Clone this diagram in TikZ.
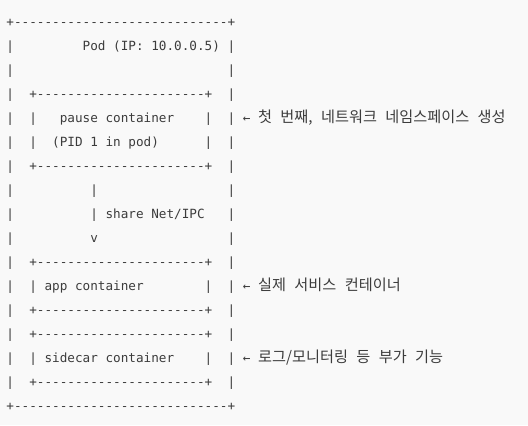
\documentclass[tikz,border=0pt]{standalone}
\usepackage{fontspec}
\usepackage{xcolor}
\setmonofont{DejaVu Sans Mono}
\newfontfamily\krfont{Noto Sans CJK KR}
\newcommand\kr{\krfont\fontsize{11.4}{13}\selectfont}
\newcommand\ks{\hspace{6.3pt}}
\definecolor{ink}{HTML}{3C3C3C}
\definecolor{paper}{HTML}{F9F9F9}
\tikzset{row/.style={anchor=base west,inner sep=0pt,text=ink,font=\ttfamily\fontsize{9.5}{11}\selectfont}}

\begin{document}
\begin{tikzpicture}[x=0.75pt,y=0.75pt,yscale=-1,xscale=1]

\fill [paper] (0,0) rectangle (528,425);

% pod box, one line of text per row
\draw (6.2,26) node (r1) [row] {+----------------------------+};
\draw (6.2,50) node (r2) [row] {|~~~~~~~~~Pod~(IP:~10.0.0.5)~|};
\draw (6.2,74) node (r3) [row] {|~~~~~~~~~~~~~~~~~~~~~~~~~~~~|};
\draw (6.2,98) node (r4) [row] {|~~+----------------------+~~|};
\draw (6.2,122) node (r5) [row] {|~~|~~~pause~container~~~~|~~|~←~{\kr 첫\ks 번째,\ks 네트워크\ks 네임스페이스\ks 생성}};
\draw (6.2,146) node (r6) [row] {|~~|~~(PID~1~in~pod)~~~~~~|~~|};
\draw (6.2,170) node (r7) [row] {|~~+----------------------+~~|};
\draw (6.2,194) node (r8) [row] {|~~~~~~~~~~|~~~~~~~~~~~~~~~~~|};
\draw (6.2,218) node (r9) [row] {|~~~~~~~~~~|~share~Net/IPC~~~|};
\draw (6.2,242) node (r10) [row] {|~~~~~~~~~~v~~~~~~~~~~~~~~~~~|};
\draw (6.2,266) node (r11) [row] {|~~+----------------------+~~|};
\draw (6.2,290) node (r12) [row] {|~~|~app~container~~~~~~~~|~~|~←~{\kr 실제\ks 서비스\ks 컨테이너}};
\draw (6.2,314) node (r13) [row] {|~~+----------------------+~~|};
\draw (6.2,338) node (r14) [row] {|~~+----------------------+~~|};
\draw (6.2,362) node (r15) [row] {|~~|~sidecar~container~~~~|~~|~←~{\kr 로그/모니터링\ks 등\ks 부가\ks 기능}};
\draw (6.2,386) node (r16) [row] {|~~+----------------------+~~|};
\draw (6.2,410) node (r17) [row] {+----------------------------+};

\end{tikzpicture}
\end{document}
